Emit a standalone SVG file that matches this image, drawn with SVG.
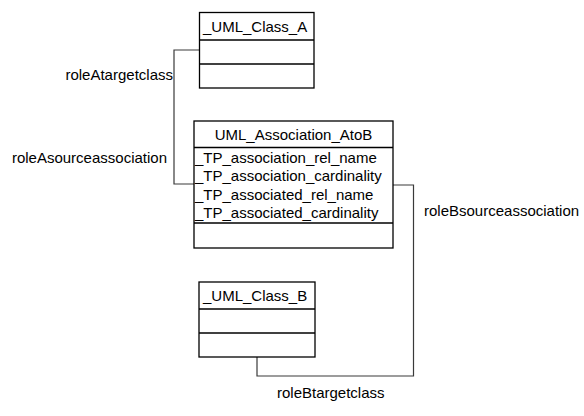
<svg xmlns="http://www.w3.org/2000/svg" width="584" height="416" viewBox="0 0 584 416">
<style>
.box{fill:#fff;stroke:#000;stroke-width:1.3}
.div{stroke:#000;stroke-width:1.3}
.conn{fill:none;stroke:#3a3a3a;stroke-width:1.2}
text{font-family:"Liberation Sans",Arial,sans-serif;font-size:15px;fill:#000}
</style>
<rect width="584" height="416" fill="#fff"/>
<g id="connectors">
<polyline class="conn" points="199.5,50 174,50 174,184 194,184"/>
<polyline class="conn" points="393,185 413.5,185 413.5,376 257,376 257,357"/>
</g>
<g id="labels">
<text x="173" y="80" text-anchor="end">roleAtargetclass</text>
<text x="167" y="163" text-anchor="end">roleAsourceassociation</text>
<text x="424" y="216">roleBsourceassociation</text>
<text x="277" y="398">roleBtargetclass</text>
</g>
<g id="classA">
<rect class="box" x="199.5" y="12.5" width="114.5" height="75.5"/>
<line class="div" x1="199.5" y1="40" x2="314" y2="40"/>
<line class="div" x1="199.5" y1="64" x2="314" y2="64"/>
<text x="203" y="32">_UML_Class_A</text>
</g>
<g id="association">
<rect class="box" x="194" y="121" width="199" height="127"/>
<line class="div" x1="194" y1="147.5" x2="393" y2="147.5"/>
<line class="div" x1="194" y1="223" x2="393" y2="223"/>
<text x="293.5" y="140" text-anchor="middle">UML_Association_AtoB</text>
<text x="195" y="163">_TP_association_rel_name</text>
<text x="195" y="181">_TP_association_cardinality</text>
<text x="195" y="199.5">_TP_associated_rel_name</text>
<text x="195" y="217.5">_TP_associated_cardinality</text>
</g>
<g id="classB">
<rect class="box" x="199" y="282" width="116" height="75"/>
<line class="div" x1="199" y1="309" x2="315" y2="309"/>
<line class="div" x1="199" y1="333" x2="315" y2="333"/>
<text x="203" y="301">_UML_Class_B</text>
</g>
</svg>
